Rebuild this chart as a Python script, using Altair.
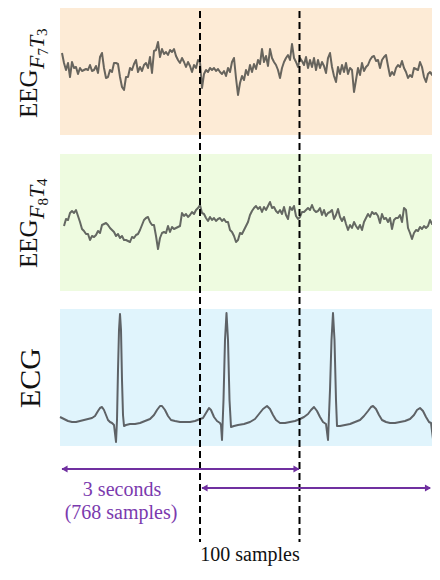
import altair as alt
import pandas as pd

# ---------------- data ----------------
channels = ["EEG F7T3", "EEG F8T4", "ECG"]

# EEG traces, one value every 2 display units (amplitude, arbitrary units)
eeg_f7t3_start = 62
eeg_f8t4_start = 64
eeg_step = 2
eeg_f7t3 = [
    15, 5, -2, 5, -9, 6, 0, 1, -6, 0,
    -3, -2, -1, -2, 3, -3, -2, 2, -5, 11,
    15, 0, -10, -9, -2, -4, 5, 5, 4, -9,
    -19, -22, -9, -9, 0, -2, 4, 8, -4, 1,
    -3, 3, 5, 0, 11, -5, 17, 18, 26, 11,
    19, 14, 16, 13, 18, 16, 19,
    12, 8, 5, 10, 6, 1, 6, 2, -4, 3, 0, 8, 6, -20, -6, -2, -4, 0, -2, 0, -3, -1, -4,
    -6, -3, -8, 0, -4, 6, 10, -10, -27, -15,
    -8, -12, -2, -7, 3, -4, 4, -1, 8, 4,
    19, 6, 12, 2, 19, 10, 6, 3, -2, -10,
    0, 6, 10, 13, 8, 24, 10, 6, 1, 10,
    7, 3, 11, 0, 8, 1, 10, -2, 8, 0,
    6, 2, -5, 10, 15, 1, -8, -14, 1, -6,
    3, -4, 5, -6, 0, -2, -24, -12, 0, -7,
    5, -3, 1, 3, 8, 11, 12, 7, 8, 0,
    8, 11, 13, 2, -8, -4, -7, 0, 3, 1,
    7, 0, -4, -10, -7, -9, 0, -1, -2, 6,
    1, -9, -14, -6, -4, -7, 1, -3, 4, 6,
]
eeg_f8t4 = [
    -4, 3, 2, 9, 11, 9, 12, 6, 0, -7,
    -9, -12, -12, -18, -14, -15, -13, -9, -11, -3,
    -2, -1, -3, -6, -8, -10, -14, -12, -16, -14,
    -18, -18, -19, -20, -15, -16, -13, -12, -8, -3,
    2, 4, 5, 0, -3, -3, -14, -27, -16, -11,
    -10, -11, -4, -10, -5, -7, -6, -5, -4, 9,
    6, 8, 5, 7, 10, 8, 12, 14, 17, 9,
    8, 4, 1, 5, 2, 4, 1, 3, 4,
    1, 3, 0, 0, -8, -10, -14, -20, -18, -11,
    -12, -8, -4, 0, 7, 11, 14, 16, 13, 15,
    10, 15, 12, 16, 20, 14, 15, 11, 9, 12,
    8, 15, 7, 3, 15, 12, 16, 6, 3, 5,
    10, 10, 12, 14, 12, 17, 12, 10, 11, 14,
    7, 12, 6, 9, 10, 12, 3, 7, 13, 5,
    1, 5, -2, -8, -3, -6, 0, -4, -7, -3,
    -8, 0, 4, 8, 5, 10, 8, 9, 6, -1,
    8, 3, 4, 0, 4, -7, 2, 4, 4, 7,
    0, 14, 12, -6, -11, -17, -11, -8, -9, -5,
    -7, -4, -6, -4, 2, -2, 2, 2, 5, 7,
]

# ECG trace (time, mV)
ecg_t = [
    60, 64, 68, 72, 76, 80, 84, 88, 92, 95, 98, 100, 102, 104, 106, 108, 110, 112, 114,
    116, 117, 118, 119, 120, 121, 122, 123, 124, 126, 130, 135, 140, 145, 150, 154, 157,
    160, 162, 165, 168, 171, 175, 180, 185, 190, 195, 200, 203, 206, 209, 211, 214, 217,
    220, 221, 222, 223.5, 225, 226.5, 228, 229.5, 231, 234, 238, 244, 250, 255, 259, 263,
    267, 270, 273, 276, 280, 285, 290, 295, 300, 304, 308, 311, 314, 317, 320, 323, 326,
    328, 330, 331.5, 333, 334.5, 336, 337, 340, 345, 350, 355, 360, 364, 368, 371, 373,
    376, 379, 382, 386, 390, 395, 400, 405, 410, 414, 417, 420, 423, 426, 429, 431, 433,
    435, 436.5, 438, 439, 440,
]
ecg_mv = [
    0.05, 0.03, 0.01, 0.00, 0.00, 0.01, 0.02, 0.03, 0.04, 0.06, 0.11, 0.14, 0.15, 0.12, 0.07, 0.02, 0.00, -0.01, -0.03,
    -0.20, 0.02, 0.52, 0.92, 1.08, 0.92, 0.42, 0.07, -0.04, -0.03, -0.02, -0.02, -0.01, 0.01, 0.03, 0.07, 0.12,
    0.16, 0.16, 0.12, 0.06, 0.02, 0.01, 0.00, 0.00, 0.00, 0.01, 0.03, 0.04, 0.09, 0.14, 0.12, 0.05, 0.01,
    -0.01, -0.03, -0.18, 0.22, 0.82, 1.09, 0.82, 0.22, -0.05, -0.04, -0.03, -0.02, 0.00, 0.03, 0.08, 0.13,
    0.16, 0.13, 0.07, 0.02, -0.01, -0.01, 0.00, 0.01, 0.03, 0.05, 0.08, 0.12, 0.15, 0.11, 0.05, 0.00, -0.02,
    -0.18, 0.32, 0.82, 1.09, 0.82, 0.22, -0.04, -0.04, -0.03, -0.02, 0.00, 0.02, 0.06, 0.11, 0.15, 0.16,
    0.13, 0.07, 0.02, 0.00, -0.01, -0.01, 0.00, 0.01, 0.03, 0.07, 0.12, 0.14, 0.11, 0.05, 0.00, -0.01, -0.17,
    0.22, 0.82, 1.09, 0.92, 0.42,
]

marker_t = [200, 299.5]
window_text = ["3 seconds", "(768 samples)"]
shift_text = "100 samples"

# ---------------- layout / style ----------------
W, H = 424, 560
panel_top = [0, 154, 309]
panel_bottom = [135, 291, 446]
panel_left, panel_right = 60, 440
panel_fill = ["#FDEBD6", "#EEFBE0", "#E0F4FC"]
trace_center = [68, 222, 422]
trace_gain = [1, 1, 100]
trace_color = ["#67645D", "#646862", "#5E6266"]
purple = "#7030A0"
text_purple = "#7B3AAE"
FONT = "Liberation Serif"

xs = alt.Scale(domain=[8, 8 + W])
ys = alt.Scale(domain=[8, 8 + H], reverse=True)


def X(f="x"):
    return alt.X(f, type="quantitative", scale=xs, axis=None)


def Y(f="y"):
    return alt.Y(f, type="quantitative", scale=ys, axis=None)


# panels
panels = pd.DataFrame({
    "x": [panel_left] * 3, "x2": [panel_right] * 3,
    "y": panel_top, "y2": panel_bottom, "fill": panel_fill,
})
rects = alt.Chart(panels).mark_rect(clip=True).encode(
    x=X(), x2="x2", y=Y(), y2="y2", color=alt.Color("fill:N", scale=None)
)

# signals
rows = []
for i, v in enumerate(eeg_f7t3):
    rows.append({"ch": channels[0], "x": eeg_f7t3_start + eeg_step * i,
                 "y": trace_center[0] - trace_gain[0] * v})
for i, v in enumerate(eeg_f8t4):
    rows.append({"ch": channels[1], "x": eeg_f8t4_start + eeg_step * i,
                 "y": trace_center[1] - trace_gain[1] * v})
for t, v in zip(ecg_t, ecg_mv):
    rows.append({"ch": channels[2], "x": t, "y": trace_center[2] - trace_gain[2] * v})
sig = pd.DataFrame(rows)
lines = alt.Chart(sig).mark_line(strokeWidth=2, strokeJoin="round", clip=True).encode(
    x=X(), y=Y(),
    color=alt.Color("ch:N", scale=alt.Scale(domain=channels, range=trace_color), legend=None),
)

# dashed markers
marks_df = pd.DataFrame({"x": marker_t, "y": [0, 0], "y2": [542, 542]})
dashed = alt.Chart(marks_df).mark_rule(color="black", strokeWidth=2, strokeDash=[7, 4], clip=True).encode(
    x=X(), y=Y(), y2="y2"
)

# arrows
arr_df = pd.DataFrame({"x": [62, 202], "x2": [299, 430], "y": [469, 488]})
arrows = alt.Chart(arr_df).mark_rule(color=purple, strokeWidth=2.2).encode(
    x=X(), x2="x2", y=Y()
)
heads_df = pd.DataFrame({
    "x": [64.5, 296.5, 204.5, 428], "y": [469, 469, 488, 488],
    "shape": ["triangle-left", "triangle-right", "triangle-left", "triangle-right"],
})
heads = alt.Chart(heads_df).mark_point(filled=True, size=50, color=purple, opacity=1).encode(
    x=X(), y=Y(), shape=alt.Shape("shape:N", scale=None)
)

# annotation texts
ann_df = pd.DataFrame({
    "x": [122, 121, 250], "y": [496, 519, 561],
    "text": [window_text[0], window_text[1], shift_text],
    "color": [text_purple, text_purple, "#111111"],
})
ann = alt.Chart(ann_df).mark_text(font=FONT, fontSize=20, align="center", baseline="alphabetic").encode(
    x=X(), y=Y(), text="text:N", color=alt.Color("color:N", scale=None)
)

# rotated channel labels
lab_norm = pd.DataFrame({
    "x": [37, 48, 47, 37, 48, 47, 40],
    "y": [118, 55.5, 36, 268, 205.5, 186, 408],
    "text": ["EEG", "7", "3", "EEG", "8", "4", "ECG"],
    "size": [25, 15, 15, 25, 15, 15, 30],
})
lab_ital = pd.DataFrame({
    "x": [44, 44, 44, 44],
    "y": [69, 48, 219, 198],
    "text": ["F", "T", "F", "T"],
    "size": [22, 22, 22, 22],
})
labels_n = alt.Chart(lab_norm).mark_text(font=FONT, angle=270, align="left", baseline="alphabetic", color="#111111").encode(
    x=X(), y=Y(), text="text:N", size=alt.Size("size:Q", scale=None)
)
labels_i = alt.Chart(lab_ital).mark_text(font=FONT, fontStyle="italic", angle=270, align="left", baseline="alphabetic", color="#111111").encode(
    x=X(), y=Y(), text="text:N", size=alt.Size("size:Q", scale=None)
)

chart = alt.layer(rects, lines, dashed, arrows, heads, ann, labels_n, labels_i).properties(
    width=W, height=H, padding=0, autosize=alt.AutoSizeParams(type="none")
).configure_view(stroke=None)

chart.save("out.html", embed_options={"renderer": "svg", "actions": False})
